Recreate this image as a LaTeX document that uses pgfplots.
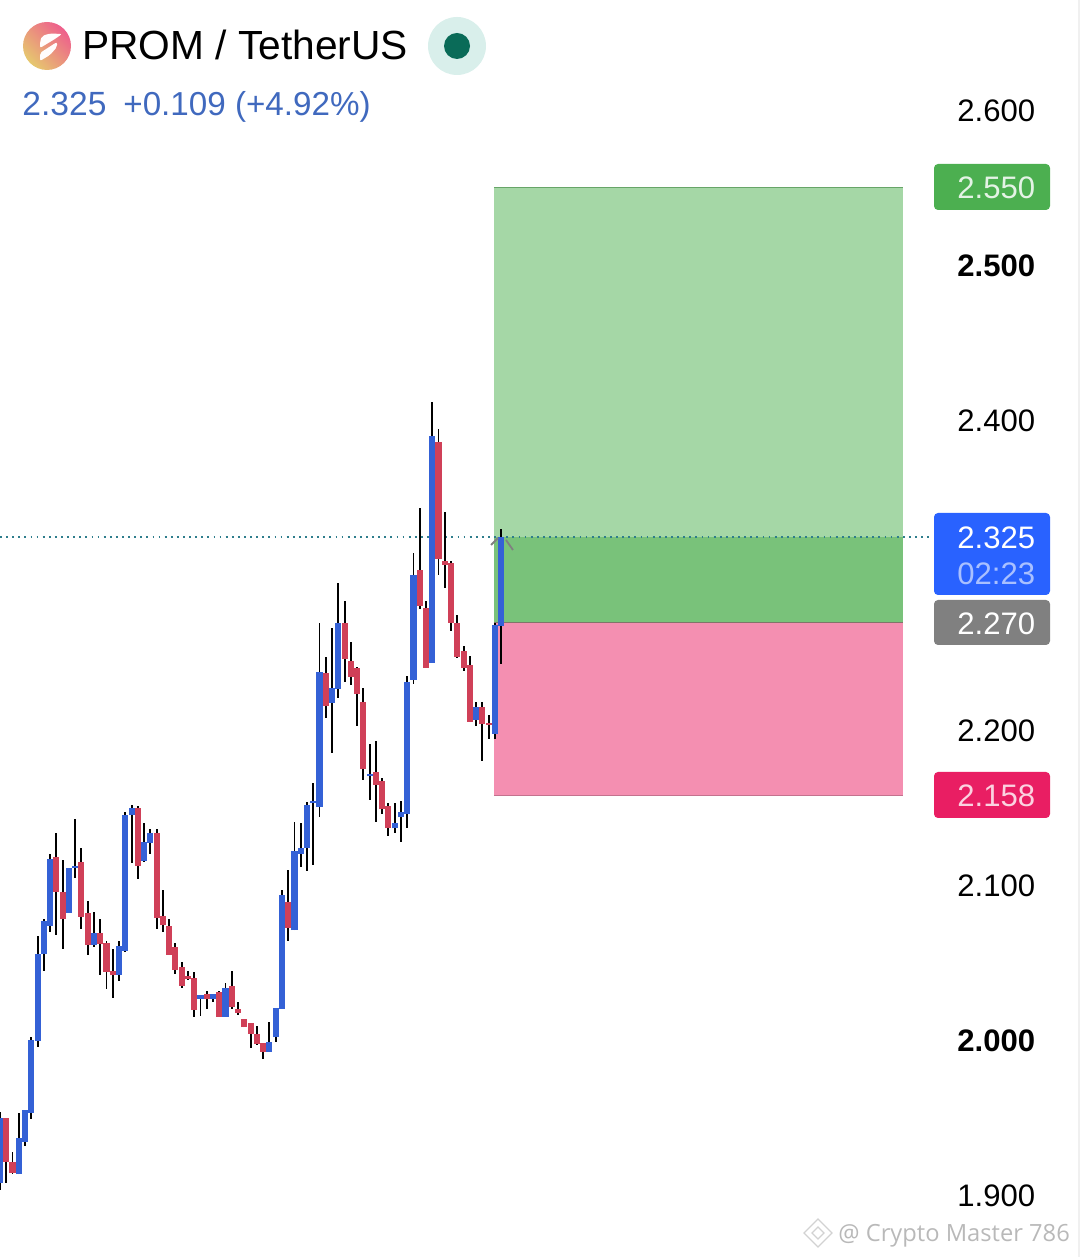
\documentclass[border=0pt]{standalone}
\usepackage{fontspec}
\usepackage{pgfplots}
\usepackage{pgfplotstable}
\pgfplotsset{compat=1.18}
\setmainfont{Liberation Sans}
\newfontfamily\wmfont{Open Sans}

\definecolor{cblue}{HTML}{3461D6}
\definecolor{cred}{HTML}{D04058}
\definecolor{zgreen}{HTML}{A5D7A6}
\definecolor{zdark}{HTML}{79C27A}
\definecolor{zpink}{HTML}{F48FB1}
\definecolor{bgreen}{HTML}{4CAF50}
\definecolor{bblue}{HTML}{2962FF}
\definecolor{bgray}{HTML}{808080}
\definecolor{bpink}{HTML}{E91E63}
\definecolor{hblue}{HTML}{4069BE}
\definecolor{logoA}{HTML}{E6C86E}
\definecolor{logoB}{HTML}{EE5F8C}
\definecolor{dotA}{HTML}{D9EFEB}
\definecolor{dotB}{HTML}{0A6B58}
\definecolor{lastp}{HTML}{2E7D8C}

% candle index, body bottom, body top, wick low, wick high
\pgfplotstableread{
i bot top lo hi
0 1.9082 1.9502 1.9039 1.9540
3 1.9141 1.9373 1.9141 1.9534
4 1.9351 1.9555 1.9325 1.9555
5 1.9538 2.0007 1.9500 2.0024
6 2.0003 2.0560 1.9964 2.0678
7 2.0560 2.0775 2.0454 2.0785
8 2.0742 2.1174 2.0706 2.1205
11 2.0828 2.1114 2.0828 2.1114
12 2.1116 2.1129 2.1054 2.1430
15 2.0622 2.0695 2.0609 2.0830
19 2.0428 2.0613 2.0390 2.0643
20 2.0581 2.1458 2.0575 2.1475
21 2.1460 2.1501 2.1146 2.1523
23 2.1162 2.1282 2.1155 2.1404
24 2.1280 2.1340 2.1207 2.1366
32 2.0274 2.0299 2.0164 2.0299
34 2.0274 2.0304 2.0252 2.0304
36 2.0157 2.0340 2.0157 2.0372
43 1.9932 1.9994 1.9932 2.0121
44 2.0024 2.0211 1.9996 2.0211
45 2.0207 2.0942 2.0207 2.0974
47 2.0716 2.1226 2.0716 2.1411
48 2.1207 2.1243 2.1121 2.1404
49 2.1243 2.1523 2.1099 2.1540
50 2.1538 2.1549 2.1136 2.1662
51 2.1512 2.2383 2.1448 2.2695
53 2.2183 2.2276 2.1861 2.2663
54 2.2271 2.2695 2.2211 2.2953
59 2.1712 2.1721 2.1555 2.1917
63 2.1371 2.1409 2.1345 2.1534
64 2.1442 2.1478 2.1287 2.1551
65 2.1463 2.2314 2.1377 2.2355
66 2.2330 2.3005 2.2304 2.3146
69 2.2441 2.3903 2.2441 2.4125
76 2.2071 2.2153 2.2035 2.2185
79 2.1981 2.2682 2.1949 2.2695
80 2.2678 2.3250 2.2433 2.3301
}\upcandles
\pgfplotstableread{
i bot top lo hi
1 1.9222 1.9502 1.9087 1.9502
2 1.9147 1.9222 1.9141 1.9282
9 2.0964 2.1185 2.0684 2.1340
10 2.0785 2.0964 2.0594 2.1168
13 2.0802 2.1155 2.0725 2.1243
14 2.0622 2.0824 2.0557 2.0904
16 2.0626 2.0695 2.0428 2.0785
17 2.0446 2.0635 2.0338 2.0643
18 2.0428 2.0450 2.0280 2.0594
22 2.1131 2.1503 2.1048 2.1516
25 2.0792 2.1340 2.0725 2.1366
26 2.0751 2.0807 2.0706 2.0974
27 2.0557 2.0742 2.0557 2.0785
28 2.0458 2.0607 2.0433 2.0630
29 2.0355 2.0480 2.0342 2.0512
30 2.0400 2.0420 2.0394 2.0450
31 2.0200 2.0407 2.0157 2.0443
33 2.0274 2.0304 2.0209 2.0323
35 2.0157 2.0317 2.0157 2.0325
37 2.0218 2.0355 2.0209 2.0450
38 2.0183 2.0205 2.0166 2.0252
39 2.0089 2.0140 2.0089 2.0140
40 2.0046 2.0114 1.9958 2.0114
41 1.9981 2.0046 1.9973 2.0097
42 1.9932 1.9985 1.9887 1.9985
46 2.0732 2.0897 2.0646 2.1104
52 2.2162 2.2372 2.2082 2.2476
55 2.2463 2.2695 2.2317 2.2841
56 2.2351 2.2454 2.2297 2.2572
57 2.2239 2.2405 2.2033 2.2411
58 2.1753 2.2185 2.1684 2.2276
60 2.1652 2.1734 2.1416 2.1936
61 2.1495 2.1678 2.1465 2.1695
62 2.1373 2.1517 2.1325 2.1538
67 2.2807 2.3039 2.2787 2.3437
68 2.2409 2.2792 2.2409 2.2841
70 2.3110 2.3862 2.3007 2.3946
71 2.3071 2.3097 2.2925 2.3411
72 2.2699 2.3086 2.2648 2.3099
73 2.2480 2.2699 2.2469 2.2747
74 2.2409 2.2519 2.2390 2.2551
75 2.2061 2.2424 2.2061 2.2484
77 2.2044 2.2153 2.1809 2.2185
78 2.2041 2.2054 2.1949 2.2104
}\downcandles

\pgfplotsset{
  wicks/.style={draw=none, mark=none, forget plot,
    error bars/.cd, y dir=both, y explicit, error mark=none,
    error bar style={draw=black, line width=0.95pt}},
  bodies/.style={draw=none, mark=none, forget plot,
    error bars/.cd, y dir=plus, y explicit, error mark=none,
    error bar style={draw=#1, line width=3.05pt}},
}

\begin{document}
\begin{tikzpicture}
\path[use as bounding box] (0,0) rectangle (540pt,628.5pt);
\begin{axis}[
  scale only axis, width=540pt, height=628.5pt,
  xmin=0, xmax=172.39, ymin=1.86065, ymax=2.67161,
  axis line style={draw=none}, major tick length=0pt,
  xtick=\empty,
  ytick={1.9,2.0,2.1,2.2,2.4,2.5,2.6},
  yticklabels={1.900,\textbf{2.000},2.100,2.200,2.400,\textbf{2.500},2.600},
  yticklabel pos=right,
  y tick label style={anchor=west, inner sep=0pt, xshift=-61.5pt, font=\fontsize{15.55}{18}\selectfont, text=black},
]
  % position zones
  \addplot[fill=zgreen, draw=none, forget plot] coordinates {(78.85,2.27) (144.13,2.27) (144.13,2.5505) (78.85,2.5505)} --cycle;
  \addplot[fill=zdark, draw=none, forget plot] coordinates {(78.85,2.27) (144.13,2.27) (144.13,2.325) (78.85,2.325)} --cycle;
  \addplot[fill=zpink, draw=none, forget plot] coordinates {(78.85,2.1585) (144.13,2.1585) (144.13,2.27) (78.85,2.27)} --cycle;
  \addplot[color=zdark!85!black, line width=0.5pt, forget plot] coordinates {(78.85,2.5505) (144.13,2.5505)};
  \addplot[color=zpink!50!zdark!70!black, line width=0.5pt, forget plot] coordinates {(78.85,2.27) (144.13,2.27)};
  \addplot[color=zpink!80!black, line width=0.5pt, forget plot] coordinates {(78.85,2.1585) (144.13,2.1585)};
  % last price line
  \addplot[color=lastp, line width=0.9pt, dash pattern=on 0.9pt off 2.15pt, forget plot] coordinates {(0,2.325) (148.4,2.325)};
  % candles
  \addplot[wicks] table[x=i, y=bot, y error plus expr=\thisrow{hi}-\thisrow{bot}, y error minus expr=\thisrow{bot}-\thisrow{lo}] {\upcandles};
  \addplot[wicks] table[x=i, y=bot, y error plus expr=\thisrow{hi}-\thisrow{bot}, y error minus expr=\thisrow{bot}-\thisrow{lo}] {\downcandles};
  \addplot[bodies=cred] table[x=i, y=bot, y error plus expr=\thisrow{top}-\thisrow{bot}] {\downcandles};
  \addplot[bodies=cblue] table[x=i, y=bot, y error plus expr=\thisrow{top}-\thisrow{bot}] {\upcandles};
\end{axis}

\shade[bottom color=logoA, top color=logoB, shading angle=-45] (23.5pt,605.5pt) circle (12pt);
\begin{scope}[shift={(0,628.5pt)}, x=0.5pt, y=-0.5pt]
  % header
  \fill[white!96!pink, rounded corners=1pt] (40,42)--(42,36)--(50,33.5)--(62,34)--(55,39)--(40,48)--cycle;
  \fill[white!96!pink, rounded corners=1pt] (40,61)--(40,53)--(57,42)--(57,47)--(50,55)--cycle;
  \node[anchor=base west, inner sep=0pt, font=\fontsize{20.35}{24}\selectfont] at (82,59.5) {PROM / TetherUS};
  \fill[dotA] (457,46) circle (14.5pt);
  \fill[dotB] (457,46) circle (6.5pt);
  \node[anchor=base west, inner sep=0pt, font=\fontsize{16.8}{20}\selectfont, text=hblue] at (22,116) {2.325};
  \node[anchor=base west, inner sep=0pt, font=\fontsize{16.6}{20}\selectfont, text=hblue] at (123,116) {+0.109 (+4.92\%)};
  % chevron at last price
  \draw[gray, line width=0.9pt] (491,545)--(498,538) (506,540)--(513,550);
  % price badges
  \fill[bgreen, rounded corners=2pt] (934,164) rectangle (1050,210);
  \fill[bblue, rounded corners=2pt] (934,513) rectangle (1050,595);
  \fill[bgray, rounded corners=2pt] (934,600) rectangle (1050,645);
  \fill[bpink, rounded corners=2pt] (934,772) rectangle (1050,818);
  \begin{scope}[every node/.style={anchor=base west, inner sep=0pt, font=\fontsize{15.55}{18}\selectfont}]
    \node[text=white!85!bgreen] at (957,199) {2.550};
    \node[text=white] at (957,549) {2.325};
    \node[text=white!60!bblue] at (957,585) {02:23};
    \node[text=white] at (957,635) {2.270};
    \node[text=white!80!bpink] at (957,807) {2.158};
  \end{scope}
  % watermark
  \draw[gray!35, line width=0.6pt] (818,1219)--(832,1233)--(818,1247)--(804,1233)--cycle;
  \draw[gray!35, line width=0.6pt] (818,1227)--(824,1233)--(818,1239)--(812,1233)--cycle;
  \node[anchor=base west, inner sep=0pt, text=gray!55, font=\wmfont\fontsize{11.85}{15}\selectfont] at (838,1241) {@ Crypto Master 786};
  \draw[gray!12, line width=0.8pt] (1079,0)--(1079,1257);
\end{scope}
\end{tikzpicture}
\end{document}
